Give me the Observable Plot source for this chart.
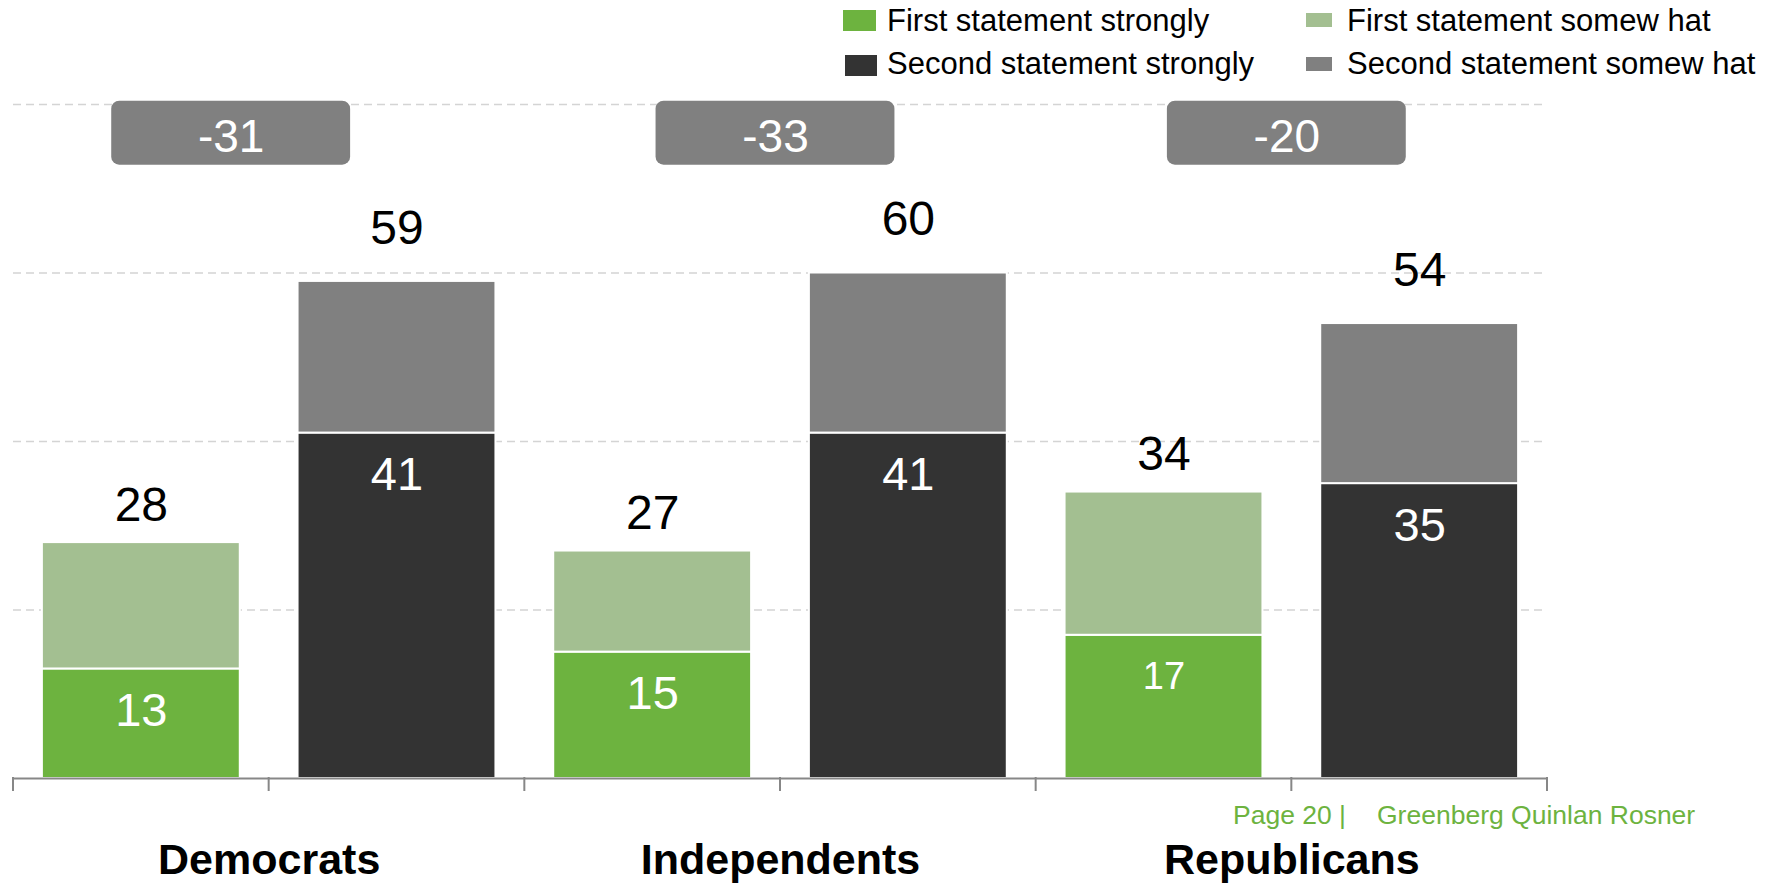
<!DOCTYPE html>
<html><head><meta charset="utf-8">
<script src="https://cdn.jsdelivr.net/npm/d3@7"></script>
<script src="https://cdn.jsdelivr.net/npm/@observablehq/plot@0.6"></script>
<style>
body{margin:0;background:#fff;font-family:"Liberation Sans",Arial,sans-serif;}
#wrap{position:relative;width:1779px;height:884px;overflow:hidden;background:#fff;}
#legend{position:relative;height:88px;}
.sw{position:absolute;}
.lt{position:absolute;font-size:31px;line-height:36px;color:#000;white-space:pre;}
.ft{position:absolute;top:800px;font-size:26.5px;line-height:30px;color:#6db33f;white-space:pre;}
#chart svg{display:block;}
</style></head><body>
<div id="wrap"><div id="legend"></div><div id="chart"></div></div>
<script>
// ---- data ----
const groups = ["Democrats", "Independents", "Republicans"];
const statements = ["First", "Second"];
const firstStrongly = [13, 15, 17];
const firstTotal = [28, 27, 34];
const secondStrongly = [41, 41, 35];
const secondTotal = [59, 60, 54];
const differences = [-31, -33, -20];
const seriesNames = ["First statement strongly", "First statement somew hat", "Second statement strongly", "Second statement somew hat"];
const seriesColors = ["#6db33f", "#a3bf91", "#333333", "#808080"];
const gridValues = [20, 40, 60, 80];
const footerParts = ["Page 20 |", "Greenberg Quinlan Rosner"];

// ---- tables ----
const key = (g, s) => g + "|" + s;
const keys = groups.flatMap(g => statements.map(s => key(g, s)));
const segments = [];
const strongRows = [];
const firstTotals = [];
const secondTotals = [];
groups.forEach((g, i) => {
  segments.push({key: key(g, "First"), series: seriesNames[0], value: firstStrongly[i]});
  segments.push({key: key(g, "First"), series: seriesNames[1], value: firstTotal[i] - firstStrongly[i]});
  segments.push({key: key(g, "Second"), series: seriesNames[2], value: secondStrongly[i]});
  segments.push({key: key(g, "Second"), series: seriesNames[3], value: secondTotal[i] - secondStrongly[i]});
  strongRows.push({group: g, key: key(g, "First"), value: firstStrongly[i]});
  strongRows.push({group: g, key: key(g, "Second"), value: secondStrongly[i]});
  firstTotals.push({key: key(g, "First"), value: firstTotal[i]});
  secondTotals.push({key: key(g, "Second"), value: secondTotal[i]});
});
const diffRows = groups.map((g, i) => ({group: g, key: key(g, "First"), diff: differences[i]}));
const groupRows = groups.map(g => ({group: g, key: key(g, "First")}));

// ---- legend (HTML) ----
const legendLayout = [
  {sw: [843, 10, 33, 21], tx: 887, ty: 3},
  {sw: [1306, 13, 26, 14], tx: 1347, ty: 3},
  {sw: [845, 55, 32, 21], tx: 887, ty: 46},
  {sw: [1306, 57, 26, 14], tx: 1347, ty: 46}
];
const legend = document.getElementById("legend");
seriesNames.forEach((name, i) => {
  const L = legendLayout[i];
  const s = document.createElement("div");
  s.className = "sw";
  Object.assign(s.style, {left: L.sw[0] + "px", top: L.sw[1] + "px", width: L.sw[2] + "px", height: L.sw[3] + "px", background: seriesColors[i]});
  legend.appendChild(s);
  const t = document.createElement("div");
  t.className = "lt";
  Object.assign(t.style, {left: L.tx + "px", top: L.ty + "px"});
  t.textContent = name;
  legend.appendChild(t);
});

// ---- chart ----
const W = 1779, H = 796, ML = 13, MR = 232, MT = 16, MB = 106;
const step = (W - ML - MR) / keys.length;
const font = '"Liberation Sans", Arial, sans-serif';

const boxMarks = (rows, shift) => [
  Plot.barY(rows, {x: "key", y1: 72.8, y2: 80.4, fill: "#808080", rx: 8, dx: step / 2 + shift, insetLeft: -20.5, insetRight: -20.5}),
  Plot.text(rows, {x: "key", y: 76.1, text: d => String(d.diff), dx: step / 2 + shift, fill: "white", fontSize: 46, lineAnchor: "middle", fontFamily: font})
];

const plot = Plot.plot({
  width: W, height: H,
  marginLeft: ML, marginRight: MR, marginTop: MT, marginBottom: MB,
  style: {fontFamily: font, background: "white", overflow: "visible"},
  x: {type: "band", domain: keys, paddingInner: 0.226, paddingOuter: 0.113, round: false, axis: null},
  y: {domain: [0, 80], axis: null},
  color: {domain: seriesNames, range: seriesColors},
  marks: [
    Plot.ruleY(gridValues, {stroke: "#d4d4d4", strokeWidth: 1.5, strokeDasharray: "8,5"}),
    Plot.barY(segments, {x: "key", y: "value", fill: "series", stroke: "white", strokeWidth: 2}),
    Plot.ruleY([0], {stroke: "#878787", strokeWidth: 2}),
    Plot.text(strongRows, {x: "key", y: "value", text: d => String(d.value), dy: 42, fill: "white",
      fontSize: d => d.group === "Republicans" && d.key.endsWith("First") ? 38 : 47, lineAnchor: "middle", fontFamily: font}),
    Plot.text(firstTotals, {x: "key", y: "value", text: d => String(d.value), dy: -37, fill: "black", fontSize: 48, lineAnchor: "middle", fontFamily: font}),
    Plot.text(secondTotals, {x: "key", y: "value", text: d => String(d.value), dy: -53, fill: "black", fontSize: 48, lineAnchor: "middle", fontFamily: font}),
    ...boxMarks(diffRows.filter(d => d.group === "Democrats"), -38),
    ...boxMarks(diffRows.filter(d => d.group !== "Democrats"), -5),
    Plot.text(groupRows, {x: "key", text: "group", frameAnchor: "bottom", dx: step / 2, dy: 81.5, fontSize: 43, fontWeight: "bold", fill: "black", lineAnchor: "middle", fontFamily: font})
  ]
});

// axis ticks at band boundaries, from the plot's own x scale
const xs = plot.scale("x");
const y0 = plot.scale("y").apply(0);
const xStep = xs.step != null ? xs.step : (xs.apply(keys[1]) - xs.apply(keys[0]));
const gap = xStep - xs.bandwidth;
const bounds = keys.map(k => xs.apply(k) - gap / 2);
bounds.push(xs.apply(keys[keys.length - 1]) + xs.bandwidth + gap / 2);
d3.select(plot).append("g").selectAll("line").data(bounds).join("line")
  .attr("x1", d => d).attr("x2", d => d).attr("y1", y0 - 1).attr("y2", y0 + 13)
  .attr("stroke", "#878787").attr("stroke-width", 2);

document.getElementById("chart").appendChild(plot);

// footer
const wrap = document.getElementById("wrap");
[1233, 1377].forEach((left, i) => {
  const f = document.createElement("div");
  f.className = "ft";
  f.style.left = left + "px";
  f.textContent = footerParts[i];
  wrap.appendChild(f);
});
</script>
</body></html>
